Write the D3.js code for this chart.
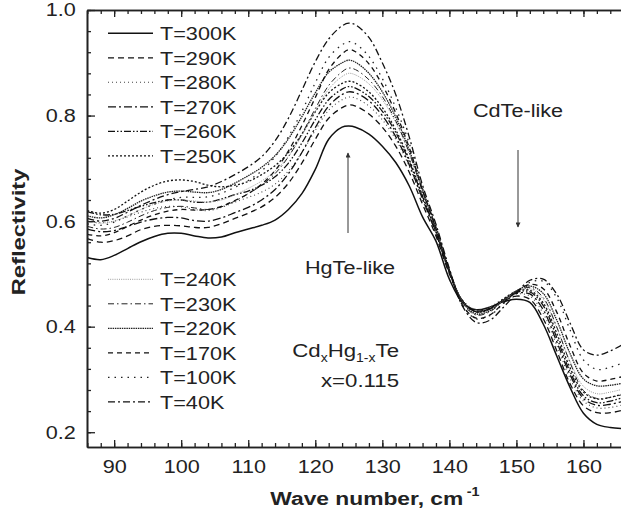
<!DOCTYPE html>
<html>
<head>
<meta charset="utf-8">
<script src="https://cdn.jsdelivr.net/npm/d3@7"></script>
<style>
  body { margin: 0; background: #fff; }
  svg { font-family: "Liberation Sans", Arial, sans-serif; }
</style>
</head>
<body>
<script>
// wave numbers (cm-1) shared by every spectrum
var waveNumbers = [86,88,90,92,94,96,98,100,102,104,
  106,108,110,112,114,116,118,120,122,124,
  125,126,128,130,132,134,136,138,140,142,
  144,146,148,150,152,154,156,158,160,162,
  164,166];

var temperatures = ["T=300K","T=290K","T=280K","T=270K","T=260K","T=250K",
  "T=240K","T=230K","T=220K","T=170K","T=100K","T=40K"];

var refl300 = [.531,.527,.535,.548,.561,.571,.577,.577,.572,.568,
  .570,.578,.585,.592,.602,.622,.652,.698,.755,.778,
  .780,.778,.765,.742,.711,.667,.608,.562,.490,.445,
  .432,.437,.447,.452,.446,.405,.345,.285,.236,.215,
  .209,.207];
var refl290 = [.567,.560,.563,.572,.584,.590,.592,.591,.588,.588,
  .595,.605,.615,.627,.645,.672,.710,.755,.795,.815,
  .820,.818,.803,.778,.742,.693,.632,.572,.500,.448,
  .430,.434,.448,.458,.452,.415,.355,.292,.250,.237,
  .237,.242];
var refl280 = [.600,.597,.600,.608,.617,.624,.628,.627,.622,.620,
  .626,.636,.645,.655,.670,.695,.730,.772,.810,.830,
  .835,.833,.818,.792,.755,.704,.640,.577,.503,.450,
  .432,.437,.452,.462,.458,.425,.365,.302,.259,.246,
  .247,.252];
var refl270 = [.585,.580,.582,.590,.598,.604,.607,.606,.601,.600,
  .606,.616,.626,.640,.660,.690,.730,.777,.818,.840,
  .845,.843,.828,.800,.760,.707,.642,.577,.503,.448,
  .428,.434,.450,.463,.462,.432,.372,.309,.264,.251,
  .253,.259];
var refl260 = [.618,.612,.613,.620,.628,.635,.640,.640,.636,.636,
  .642,.650,.657,.668,.684,.710,.748,.792,.830,.850,
  .855,.852,.836,.808,.768,.713,.646,.580,.505,.448,
  .428,.433,.450,.465,.466,.440,.380,.315,.269,.256,
  .259,.266];
var refl250 = [.620,.615,.622,.638,.655,.668,.676,.678,.675,.668,
  .665,.668,.675,.688,.705,.730,.765,.807,.843,.861,
  .865,.862,.845,.815,.773,.717,.648,.580,.505,.448,
  .428,.434,.452,.467,.469,.445,.388,.322,.276,.263,
  .266,.273];
var refl240 = [.600,.596,.600,.610,.622,.632,.638,.640,.638,.636,
  .640,.650,.662,.676,.695,.723,.762,.808,.850,.874,
  .880,.877,.860,.830,.787,.728,.655,.584,.507,.447,
  .425,.431,.450,.467,.472,.452,.398,.334,.287,.273,
  .276,.282];
var refl230 = [.590,.585,.588,.598,.610,.620,.626,.628,.625,.622,
  .627,.638,.652,.668,.690,.722,.765,.813,.857,.883,
  .890,.887,.868,.836,.790,.730,.656,.584,.505,.444,
  .422,.428,.448,.467,.474,.455,.400,.332,.279,.264,
  .266,.272];
var refl220 = [.610,.606,.612,.624,.638,.648,.655,.657,.655,.654,
  .660,.672,.686,.702,.724,.756,.798,.843,.882,.900,
  .905,.901,.880,.845,.797,.735,.660,.588,.508,.446,
  .424,.430,.450,.468,.477,.463,.413,.349,.301,.288,
  .289,.293];
var refl170 = [.575,.572,.578,.590,.602,.612,.619,.622,.621,.622,
  .628,.639,.652,.670,.696,.733,.781,.834,.887,.917,
  .925,.921,.898,.858,.805,.740,.658,.586,.505,.440,
  .416,.422,.444,.466,.480,.472,.428,.364,.312,.297,
  .300,.306];
var refl100 = [.595,.592,.598,.610,.622,.632,.640,.645,.645,.646,
  .653,.664,.677,.695,.722,.760,.808,.862,.910,.934,
  .940,.936,.912,.870,.815,.748,.662,.590,.507,.440,
  .415,.421,.443,.467,.484,.486,.455,.394,.337,.319,
  .323,.332];
var refl40 = [.605,.600,.605,.617,.630,.641,.650,.656,.660,.665,
  .675,.688,.703,.722,.752,.795,.848,.902,.945,.970,
  .975,.972,.948,.900,.840,.760,.668,.594,.510,.438,
  .408,.412,.436,.463,.488,.490,.462,.407,.356,.346,
  .354,.367];

var spectra = [refl300, refl290, refl280, refl270, refl260, refl250,
  refl240, refl230, refl220, refl170, refl100, refl40];

var xMajor = [90,100,110,120,130,140,150,160];
var xMinor = d3.range(86, 166, 2);
var yMajor = [0.2,0.4,0.6,0.8,1.0];
var yMinor = d3.range(0.2, 1.001, 0.04);

// line styles per legend entry
var lineStyle = {
  "T=300K": {dash: null, w: 1.5, c: "#111"},
  "T=290K": {dash: "6,4", w: 1.3, c: "#111"},
  "T=280K": {dash: "1,3", w: 1.1, c: "#444"},
  "T=270K": {dash: "8,3,2,3", w: 1.3, c: "#111"},
  "T=260K": {dash: "7,2,1.5,2,1.5,2", w: 1.3, c: "#111"},
  "T=250K": {dash: "2,2", w: 1.3, c: "#111"},
  "T=240K": {dash: "1,1.2", w: 1, c: "#9a9a9a"},
  "T=230K": {dash: "6,3,1.5,3", w: 1, c: "#222"},
  "T=220K": {dash: "1.5,0.8", w: 1.3, c: "#222"},
  "T=170K": {dash: "5,4", w: 1.3, c: "#111"},
  "T=100K": {dash: "1.5,5", w: 1.3, c: "#222"},
  "T=40K": {dash: "7,3,2,3", w: 1.3, c: "#111"}
};

var W = 621, H = 514;
var padL = 87, padR = 621, padT = 10, padB = 447;
var sx = 1.17; // text is a bit wider than Arial in the original

var x = d3.scaleLinear().domain([85.95, 165.6]).range([padL, padR]);
var y = d3.scaleLinear().domain([0.172, 1.0]).range([padB, padT]);

var svg = d3.select("body").append("svg")
  .attr("width", W).attr("height", H);
svg.append("rect").attr("width", W).attr("height", H).attr("fill", "#fff");

svg.append("defs").append("clipPath").attr("id", "plotclip")
  .append("rect").attr("x", padL).attr("y", padT)
  .attr("width", padR - padL).attr("height", padB - padT);

// spectra
var line = d3.line()
  .x(function(d, i) { return x(waveNumbers[i]); })
  .y(function(d) { return y(d); })
  .curve(d3.curveCatmullRom.alpha(0.5));

var plot = svg.append("g").attr("clip-path", "url(#plotclip)");
spectra.forEach(function(s, k) {
  var st = lineStyle[temperatures[k]];
  plot.append("path")
    .attr("d", line(s))
    .attr("fill", "none")
    .attr("stroke", st.c)
    .attr("stroke-width", st.w)
    .attr("stroke-dasharray", st.dash);
});

// axes
function styleAxis(g) {
  g.select(".domain").attr("stroke", "#222").attr("stroke-width", 1.6);
  g.selectAll(".tick line").attr("stroke", "#222").attr("stroke-width", 1.3);
  g.selectAll("text").attr("fill", "#222").style("font-size", "18.5px")
    .attr("transform", "scale(" + sx + ",1)");
}

svg.append("g").attr("transform", "translate(0," + padB + ")")
  .call(d3.axisBottom(x).tickValues(xMinor).tickSize(-4).tickFormat("").tickSizeOuter(0))
  .call(styleAxis);
svg.append("g").attr("transform", "translate(0," + padB + ")")
  .call(d3.axisBottom(x).tickValues(xMajor).tickSize(-7).tickPadding(13).tickSizeOuter(0))
  .call(styleAxis);

svg.append("g").attr("transform", "translate(0," + padT + ")")
  .call(d3.axisTop(x).tickValues(xMinor).tickSize(-4).tickFormat("").tickSizeOuter(0))
  .call(styleAxis);
svg.append("g").attr("transform", "translate(0," + padT + ")")
  .call(d3.axisTop(x).tickValues(xMajor).tickSize(-7).tickFormat("").tickSizeOuter(0))
  .call(styleAxis);

svg.append("g").attr("transform", "translate(" + padL + ",0)")
  .call(d3.axisLeft(y).tickValues(yMinor).tickSize(-4).tickFormat("").tickSizeOuter(0))
  .call(styleAxis);
svg.append("g").attr("transform", "translate(" + padL + ",0)")
  .call(d3.axisLeft(y).tickValues(yMajor).tickSize(-8).tickPadding(9.5)
    .tickFormat(d3.format(".1f")).tickSizeOuter(0))
  .call(styleAxis);

// axis titles
svg.append("text")
  .attr("transform", "translate(375,505) scale(1.2,1)")
  .attr("text-anchor", "middle")
  .style("font-size", "19px").style("font-weight", "bold").attr("fill", "#222")
  .text("Wave number, cm")
  .append("tspan").attr("dy", -9).attr("dx", 3).style("font-size", "12px").text("-1");

svg.append("text")
  .attr("transform", "translate(25,232) rotate(-90) scale(1.25,1)")
  .attr("text-anchor", "middle")
  .style("font-size", "19px").style("font-weight", "bold").attr("fill", "#222")
  .text("Reflectivity");

// legend
var legend = svg.append("g");
temperatures.forEach(function(t, i) {
  var cy = i < 6 ? 33.3 + i * 24.5 : 279.3 + (i - 6) * 24.5;
  var st = lineStyle[t];
  legend.append("line")
    .attr("x1", 108).attr("x2", 153).attr("y1", cy).attr("y2", cy)
    .attr("stroke", st.c).attr("stroke-width", st.w)
    .attr("stroke-dasharray", st.dash);
  legend.append("text")
    .attr("transform", "translate(160," + (cy + 6.8) + ") scale(" + sx + ",1)")
    .style("font-size", "18.5px").attr("fill", "#222")
    .text(t);
});

// annotations
var defs = svg.select("defs");
defs.append("marker").attr("id", "head")
  .attr("viewBox", "0 0 10 10").attr("refX", 9).attr("refY", 5)
  .attr("markerWidth", 9).attr("markerHeight", 5)
  .attr("markerUnits", "userSpaceOnUse")
  .attr("orient", "auto")
  .append("path").attr("d", "M0,0L10,5L0,10Z").attr("fill", "#333");

svg.append("line").attr("x1", 348).attr("x2", 348).attr("y1", 233).attr("y2", 153)
  .attr("stroke", "#333").attr("stroke-width", 1).attr("marker-end", "url(#head)");
svg.append("line").attr("x1", 518).attr("x2", 518).attr("y1", 150).attr("y2", 227)
  .attr("stroke", "#333").attr("stroke-width", 1).attr("marker-end", "url(#head)");

svg.append("text")
  .attr("transform", "translate(350,274) scale(" + sx + ",1)")
  .attr("text-anchor", "middle").style("font-size", "18.5px").attr("fill", "#222")
  .text("HgTe-like");
svg.append("text")
  .attr("transform", "translate(518,117) scale(" + sx + ",1)")
  .attr("text-anchor", "middle").style("font-size", "18.5px").attr("fill", "#222")
  .text("CdTe-like");

var formula = svg.append("text")
  .attr("transform", "translate(399,357) scale(" + sx + ",1)")
  .attr("text-anchor", "end").style("font-size", "19px").attr("fill", "#222");
formula.append("tspan").text("Cd");
formula.append("tspan").attr("dy", 5).style("font-size", "12px").text("x");
formula.append("tspan").attr("dy", -5).text("Hg");
formula.append("tspan").attr("dy", 5).style("font-size", "12px").text("1-x");
formula.append("tspan").attr("dy", -5).text("Te");

svg.append("text")
  .attr("transform", "translate(399,387) scale(" + sx + ",1)")
  .attr("text-anchor", "end").style("font-size", "19px").attr("fill", "#222")
  .text("x=0.115");
</script>
</body>
</html>
